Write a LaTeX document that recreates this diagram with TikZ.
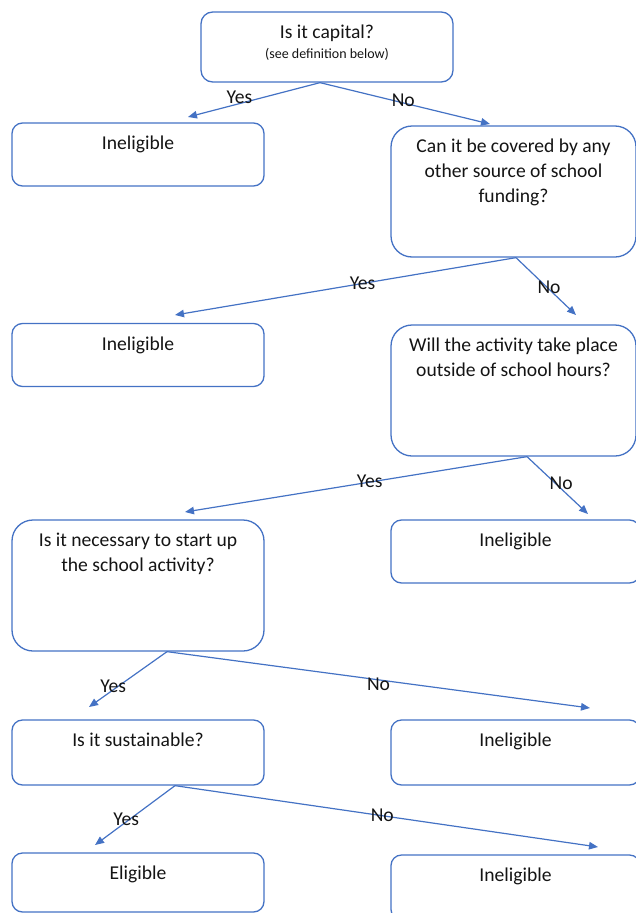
\documentclass[tikz,border=0pt]{standalone}
\usepackage{fontspec}
\setmainfont{Carlito}
\usetikzlibrary{arrows.meta}
\usetikzlibrary{positioning}

\definecolor{officeblue}{RGB}{68,114,196}

\tikzset{
  box/.style={draw=officeblue, line width=1.3pt, rounded corners=10.5pt,
    minimum width=252pt, minimum height=63pt, inner sep=0pt},
  tallbox/.style={box, rounded corners=21pt, minimum height=131pt},
  txt/.style={font=\fontsize{19.6}{25}\selectfont, text=black!92, align=center, inner sep=0pt},
  boxtext/.style={label={[txt, anchor=north, yshift=-13.5pt]north:{#1}}},
  link/.style={officeblue, line width=1.2pt, -{Triangle[length=9pt,width=7.5pt]}},
  choice/.style={txt, pos=#1},
}

\begin{document}
\begin{tikzpicture}[x=1pt,y=-1pt]
\useasboundingbox (0,0) rectangle (636,913);

% boxes
\node[box, minimum height=70pt, rounded corners=11.7pt,
  boxtext={Is it capital?\\[-5pt]{\fontsize{14}{15}\selectfont (see definition below)}}] (capital) at (327,47) {};
\node[box, boxtext=Ineligible] (inelA) at (138,154.5) {};
\node[tallbox, minimum width=245pt,
  boxtext={Can it be covered by any\\other source of school\\funding?}] (funding) at (513.5,191.5) {};
\node[box, boxtext=Ineligible] (inelB) at (138,355) {};
\node[tallbox, minimum width=245pt,
  boxtext={Will the activity take place\\outside of school hours?}] (hours) at (513.5,390.5) {};
\node[tallbox,
  boxtext={Is it necessary to start up\\the school activity?}] (necessary) at (138,585.5) {};
\node[box, minimum width=249pt, boxtext=Ineligible] (inelC) at (515.5,551.5) {};
\node[box, minimum height=65pt, boxtext={Is it sustainable?}] (sustain) at (138,752.5) {};
\node[box, minimum width=249pt, minimum height=65pt, boxtext=Ineligible] (inelD) at (515.5,752.5) {};
\node[box, minimum height=59pt, boxtext=Eligible] (eligible) at (138,882.5) {};
\node[box, minimum width=249pt, minimum height=65pt, boxtext=Ineligible] (inelE) at (515.5,887.5) {};

% arrow ends
\coordinate (capYes) at (188,117);
\coordinate (capNo) at (490,124);
\coordinate (fundYes) at (175,315);
\coordinate (fundNo) at (576,315);
\coordinate (hourYes) at (185,512);
\coordinate (hourNo) at (588,514);
\coordinate (needYes) at (89,707);
\coordinate (needNo) at (590,708);
\coordinate (sustYes) at (95,845);
\coordinate (sustNo) at (598,847);

% connectors
\draw[link] ([xshift=-7pt]capital.south) -- node[choice=.61, yshift=6pt] {Yes} (capYes);
\draw[link] ([xshift=-7pt]capital.south) -- node[choice=.49, yshift=3pt] {No} (capNo);
\draw[link] ([xshift=2.5pt]funding.south) -- node[choice=.45] {Yes} (fundYes);
\draw[link] ([xshift=2.5pt]funding.south) -- node[choice=.55, yshift=2pt] {No} (fundNo);
\draw[link] ([xshift=13.5pt]hours.south) -- node[choice=.46, yshift=1pt] {Yes} (hourYes);
\draw[link] ([xshift=13.5pt]hours.south) -- node[choice=.56, yshift=5pt] {No} (hourNo);
\draw[link] ([xshift=29pt]necessary.south) -- node[choice=.69, yshift=4pt] {Yes} (needYes);
\draw[link] ([xshift=29pt]necessary.south) -- node[choice=.50, yshift=-4pt] {No} (needNo);
\draw[link] ([xshift=37pt]sustain.south) -- node[choice=.61, yshift=3pt] {Yes} (sustYes);
\draw[link] ([xshift=37pt]sustain.south) -- node[choice=.49] {No} (sustNo);

\end{tikzpicture}
\end{document}
